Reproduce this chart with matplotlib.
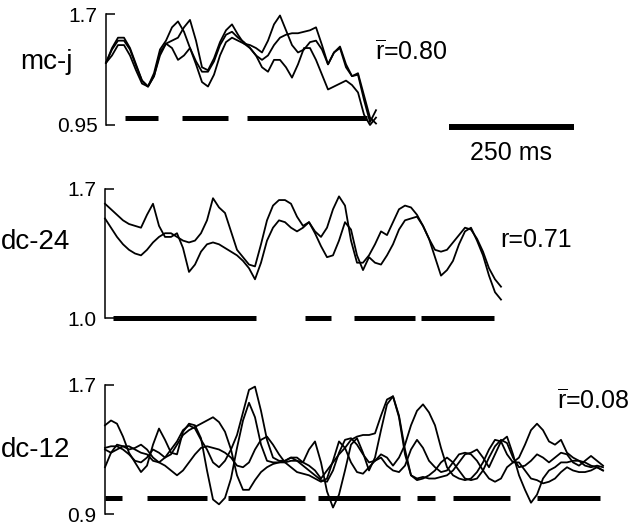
import numpy as np
import matplotlib
matplotlib.use("Agg")
import matplotlib.pyplot as plt

plt.rcParams['font.family'] = ['Liberation Sans', 'DejaVu Sans']
plt.rcParams['mathtext.fontset'] = 'custom'
plt.rcParams['mathtext.rm'] = 'Liberation Sans'

# all traces sampled every 12 ms
dt = 12

# mc-j, three trials
mcj_1 = [1.37, 1.47, 1.54, 1.54, 1.47, 1.36, 1.25, 1.21, 1.28, 1.42,
         1.50, 1.52, 1.54, 1.61, 1.66, 1.52, 1.34, 1.32, 1.40, 1.51,
         1.59, 1.63, 1.56, 1.50, 1.49, 1.47, 1.44, 1.52, 1.63, 1.69,
         1.59, 1.49, 1.44, 1.46, 1.51, 1.52, 1.46, 1.36, 1.44, 1.48,
         1.36, 1.28, 1.30, 1.15, 1.00, 0.96]
mcj_2 = [1.37, 1.46, 1.52, 1.52, 1.46, 1.35, 1.25, 1.21, 1.30, 1.46,
         1.52, 1.61, 1.65, 1.58, 1.47, 1.38, 1.31, 1.31, 1.38, 1.49,
         1.56, 1.58, 1.54, 1.51, 1.47, 1.42, 1.39, 1.42, 1.49, 1.54,
         1.56, 1.57, 1.57, 1.58, 1.59, 1.61, 1.49, 1.36, 1.44, 1.47,
         1.34, 1.28, 1.29, 1.12, 0.97, 1.05]
mcj_3 = [1.37, 1.42, 1.49, 1.49, 1.42, 1.32, 1.23, 1.21, 1.28, 1.44,
         1.50, 1.47, 1.39, 1.42, 1.47, 1.36, 1.24, 1.21, 1.29, 1.42,
         1.51, 1.54, 1.52, 1.50, 1.47, 1.42, 1.34, 1.31, 1.39, 1.39,
         1.34, 1.27, 1.36, 1.47, 1.47, 1.39, 1.29, 1.19, 1.21, 1.23,
         1.25, 1.22, 1.17, 1.02, 0.95, 1.00]

# dc-24, two trials
dc24_1 = [1.62, 1.59, 1.56, 1.53, 1.51, 1.50, 1.49, 1.56, 1.62, 1.50,
          1.44, 1.44, 1.46, 1.38, 1.25, 1.29, 1.36, 1.40, 1.41, 1.40,
          1.38, 1.36, 1.34, 1.31, 1.27, 1.21, 1.30, 1.42, 1.49, 1.53,
          1.52, 1.49, 1.47, 1.49, 1.52, 1.46, 1.39, 1.33, 1.34, 1.42,
          1.52, 1.48, 1.34, 1.26, 1.33, 1.30, 1.29, 1.34, 1.40, 1.48,
          1.53, 1.54, 1.55, 1.50, 1.43, 1.33, 1.23, 1.26, 1.31, 1.40,
          1.47, 1.49, 1.42, 1.34, 1.23, 1.14, 1.10]
dc24_2 = [1.54, 1.49, 1.44, 1.40, 1.37, 1.35, 1.34, 1.37, 1.41, 1.44,
          1.46, 1.46, 1.44, 1.42, 1.41, 1.42, 1.46, 1.53, 1.65, 1.60,
          1.57, 1.47, 1.37, 1.33, 1.29, 1.28, 1.40, 1.53, 1.61, 1.64,
          1.64, 1.62, 1.55, 1.50, 1.52, 1.47, 1.44, 1.49, 1.59, 1.66,
          1.61, 1.42, 1.30, 1.30, 1.34, 1.40, 1.47, 1.45, 1.52, 1.59,
          1.61, 1.60, 1.56, 1.50, 1.43, 1.37, 1.36, 1.37, 1.41, 1.45,
          1.49, 1.48, 1.43, 1.36, 1.27, 1.21, 1.17]

# dc-12, four trials
dc12_1 = [1.45, 1.48, 1.46, 1.38, 1.28, 1.22, 1.16, 1.20, 1.33, 1.43,
          1.36, 1.28, 1.27, 1.41, 1.46, 1.45, 1.37, 1.17, 0.99, 0.96,
          1.00, 1.12, 1.31, 1.48, 1.59, 1.50, 1.33, 1.23, 1.22, 1.22,
          1.22, 1.23, 1.23, 1.22, 1.20, 1.17, 1.12, 1.17, 1.22, 1.27,
          1.31, 1.36, 1.38, 1.39, 1.39, 1.40, 1.51, 1.61, 1.63, 1.50,
          1.27, 1.14, 1.12, 1.13, 1.12, 1.12, 1.13, 1.14, 1.17, 1.22,
          1.27, 1.28, 1.30, 1.25, 1.19, 1.27, 1.35, 1.38, 1.27, 1.14,
          1.05, 0.97, 1.02, 1.12, 1.17, 1.19, 1.22, 1.22, 1.23, 1.23,
          1.20, 1.19, 1.20, 1.19]
dc12_2 = [1.31, 1.32, 1.32, 1.30, 1.27, 1.23, 1.22, 1.25, 1.30, 1.28,
          1.25, 1.27, 1.33, 1.39, 1.42, 1.44, 1.46, 1.48, 1.50, 1.47,
          1.41, 1.30, 1.14, 1.05, 1.05, 1.11, 1.16, 1.19, 1.21, 1.22,
          1.23, 1.25, 1.23, 1.20, 1.17, 1.14, 1.11, 1.10, 1.17, 1.28,
          1.36, 1.37, 1.33, 1.27, 1.22, 1.23, 1.27, 1.25, 1.20, 1.25,
          1.33, 1.45, 1.54, 1.58, 1.53, 1.45, 1.31, 1.19, 1.14, 1.12,
          1.11, 1.12, 1.16, 1.22, 1.30, 1.36, 1.35, 1.27, 1.22, 1.25,
          1.33, 1.42, 1.46, 1.42, 1.35, 1.33, 1.36, 1.28, 1.25, 1.23,
          1.22, 1.20, 1.19, 1.17]
dc12_3 = [1.30, 1.28, 1.30, 1.32, 1.32, 1.30, 1.28, 1.27, 1.23, 1.22,
          1.25, 1.30, 1.35, 1.42, 1.45, 1.43, 1.36, 1.30, 1.22, 1.19,
          1.23, 1.30, 1.39, 1.53, 1.67, 1.69, 1.54, 1.36, 1.25, 1.23,
          1.23, 1.25, 1.25, 1.22, 1.30, 1.35, 1.22, 1.04, 0.94, 1.02,
          1.17, 1.33, 1.37, 1.28, 1.17, 1.25, 1.42, 1.58, 1.63, 1.51,
          1.30, 1.14, 1.11, 1.12, 1.14, 1.17, 1.22, 1.25, 1.22, 1.17,
          1.12, 1.11, 1.12, 1.17, 1.25, 1.32, 1.36, 1.34, 1.25, 1.19,
          1.20, 1.23, 1.27, 1.25, 1.22, 1.25, 1.28, 1.27, 1.22, 1.20,
          1.23, 1.26, 1.23, 1.20]
dc12_4 = [1.19, 1.28, 1.33, 1.32, 1.30, 1.31, 1.33, 1.30, 1.25, 1.22,
          1.20, 1.17, 1.14, 1.17, 1.22, 1.27, 1.31, 1.32, 1.31, 1.30,
          1.28, 1.25, 1.20, 1.19, 1.22, 1.30, 1.36, 1.38, 1.33, 1.27,
          1.22, 1.19, 1.16, 1.15, 1.14, 1.12, 1.10, 1.12, 1.23, 1.35,
          1.31, 1.22, 1.16, 1.15, 1.19, 1.23, 1.25, 1.20, 1.17, 1.16,
          1.20, 1.30, 1.36, 1.31, 1.23, 1.19, 1.16, 1.17, 1.22, 1.27,
          1.28, 1.27, 1.23, 1.17, 1.12, 1.10, 1.12, 1.19, 1.22, 1.22,
          1.17, 1.12, 1.11, 1.09, 1.10, 1.12, 1.16, 1.19, 1.17, 1.16,
          1.16, 1.17, 1.19, 1.17]

# black bars under the traces (start, end in ms), drawn at y = 1.0
bars_mcj = [(38, 104), (152, 244), (282, 522)]
bars_dc24 = [(16, 302), (400, 452), (498, 620), (632, 778)]
bars_dc12 = [(0, 34), (84, 204), (246, 400), (426, 590), (624, 660),
             (696, 810), (864, 990)]

W, H = 640, 526
fig = plt.figure(figsize=(W / 100, H / 100), dpi=100)


def add_panel(left, top, bottom, ylo, yhi, traces, bars, ticklabels):
    ax = fig.add_axes([left / W, 1 - bottom / H, (W - left) / W, (bottom - top) / H])
    ax.set_xlim(0, (W - left) * 2)
    ax.set_ylim(ylo, yhi)
    for tr in traces:
        t = np.arange(len(tr)) * dt
        ax.plot(t, tr, color='black', lw=1.3, clip_on=False)
    for a, b in bars:
        ax.plot([a, b], [1.0, 1.0], color='black', lw=3.6, solid_capstyle='butt', clip_on=False)
    for s in ['top', 'right', 'bottom']:
        ax.spines[s].set_visible(False)
    ax.spines['left'].set_linewidth(1.1)
    ax.set_xticks([])
    ax.set_yticks([ylo, yhi])
    ax.set_yticklabels(ticklabels)
    ax.tick_params(axis='y', direction='in', length=6.5, width=1.1, labelsize=15, pad=6)
    return ax


ax1 = add_panel(106, 14, 125, 0.95, 1.7, [mcj_1, mcj_2, mcj_3], bars_mcj, ['0.95', '1.7'])
ax2 = add_panel(105, 189, 318, 1.0, 1.7, [dc24_1, dc24_2], bars_dc24, ['1.0', '1.7'])
ax3 = add_panel(105, 385, 514, 0.9, 1.7, [dc12_1, dc12_2, dc12_3, dc12_4], bars_dc12, ['0.9', '1.7'])

# 250 ms scale bar
ax1.plot([686, 936], [0.936, 0.936], color='black', lw=4.3, solid_capstyle='butt', clip_on=False)
fig.text(511 / W, 1 - 153 / H, '250 ms', ha='center', va='center', fontsize=18)

fig.text(20 / W, 1 - 62 / H, 'mc-j', ha='left', va='center', fontsize=20)
fig.text(1 / W, 1 - 242 / H, 'dc-24', ha='left', va='center', fontsize=20)
fig.text(1 / W, 1 - 450 / H, 'dc-12', ha='left', va='center', fontsize=20)

fig.text(375 / W, 1 - 52 / H, r'$\overline{\mathrm{r}}$=0.80', ha='left', va='center', fontsize=18)
fig.text(500 / W, 1 - 240 / H, 'r=0.71', ha='left', va='center', fontsize=18)
fig.text(557 / W, 1 - 401 / H, r'$\overline{\mathrm{r}}$=0.08', ha='left', va='center', fontsize=18)

fig.savefig('out.png', dpi=100)
